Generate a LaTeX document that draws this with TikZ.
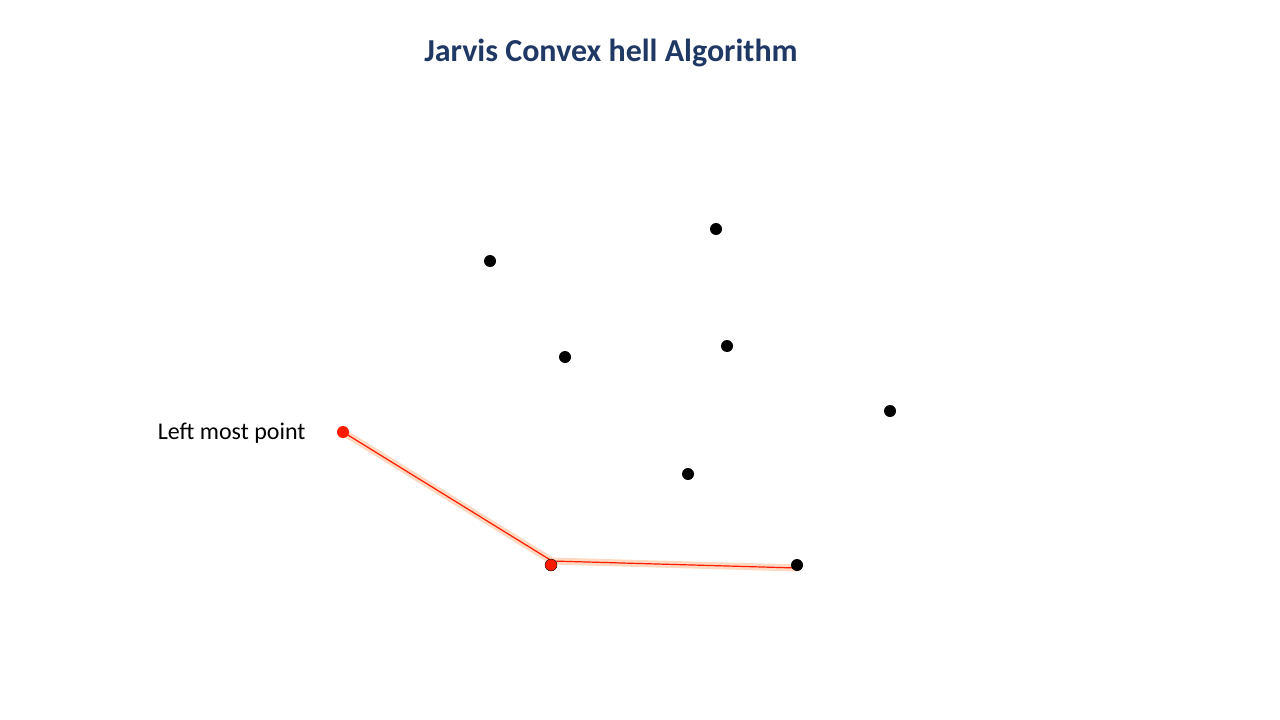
\documentclass[tikz,border=0pt]{standalone}
\usepackage{fontspec}
\setmainfont{Carlito}
\definecolor{titleblue}{HTML}{1F3864}
\definecolor{hullred}{HTML}{FF1A00}
\definecolor{glow}{HTML}{FCD9C0}
\begin{document}
\begin{tikzpicture}[x=1pt,y=-1pt,
  pt/.style={circle,fill=black,inner sep=0pt,minimum width=12pt,minimum height=11pt},
  redpt/.style={pt,fill=hullred},
  hullglow/.style={glow,line width=7pt,line cap=round},
  hull/.style={hullred,line width=1.2pt}]
\useasboundingbox (0,0) rectangle (1280,720);
\node[font=\bfseries\fontsize{32}{38}\selectfont,text=titleblue] (title) at (611,53) {Jarvis Convex hell Algorithm};
\node[pt] (p1) at (490,261) {};
\node[pt] (p2) at (716,229) {};
\node[pt] (p3) at (565,357) {};
\node[pt] (p4) at (727,346) {};
\node[pt] (p5) at (890,411) {};
\node[pt] (p6) at (688,474) {};
\coordinate (c0) at (343,432);
\coordinate (c1) at (552,561);
\coordinate (c2) at (797,568);
\draw[hullglow] (c0) -- (c1) -- (c2);
\draw[hull] (c0) -- (c1) -- (c2);
\node[pt] (p7) at (797,565) {};
\node[redpt] (left) at (343,432) {};
\node[redpt,draw=black,line width=0.4pt] (low) at (551,565) {};
\node[font=\fontsize{24}{29}\selectfont,anchor=east] (lbl) at (309,433) {Left most point};
\end{tikzpicture}
\end{document}
